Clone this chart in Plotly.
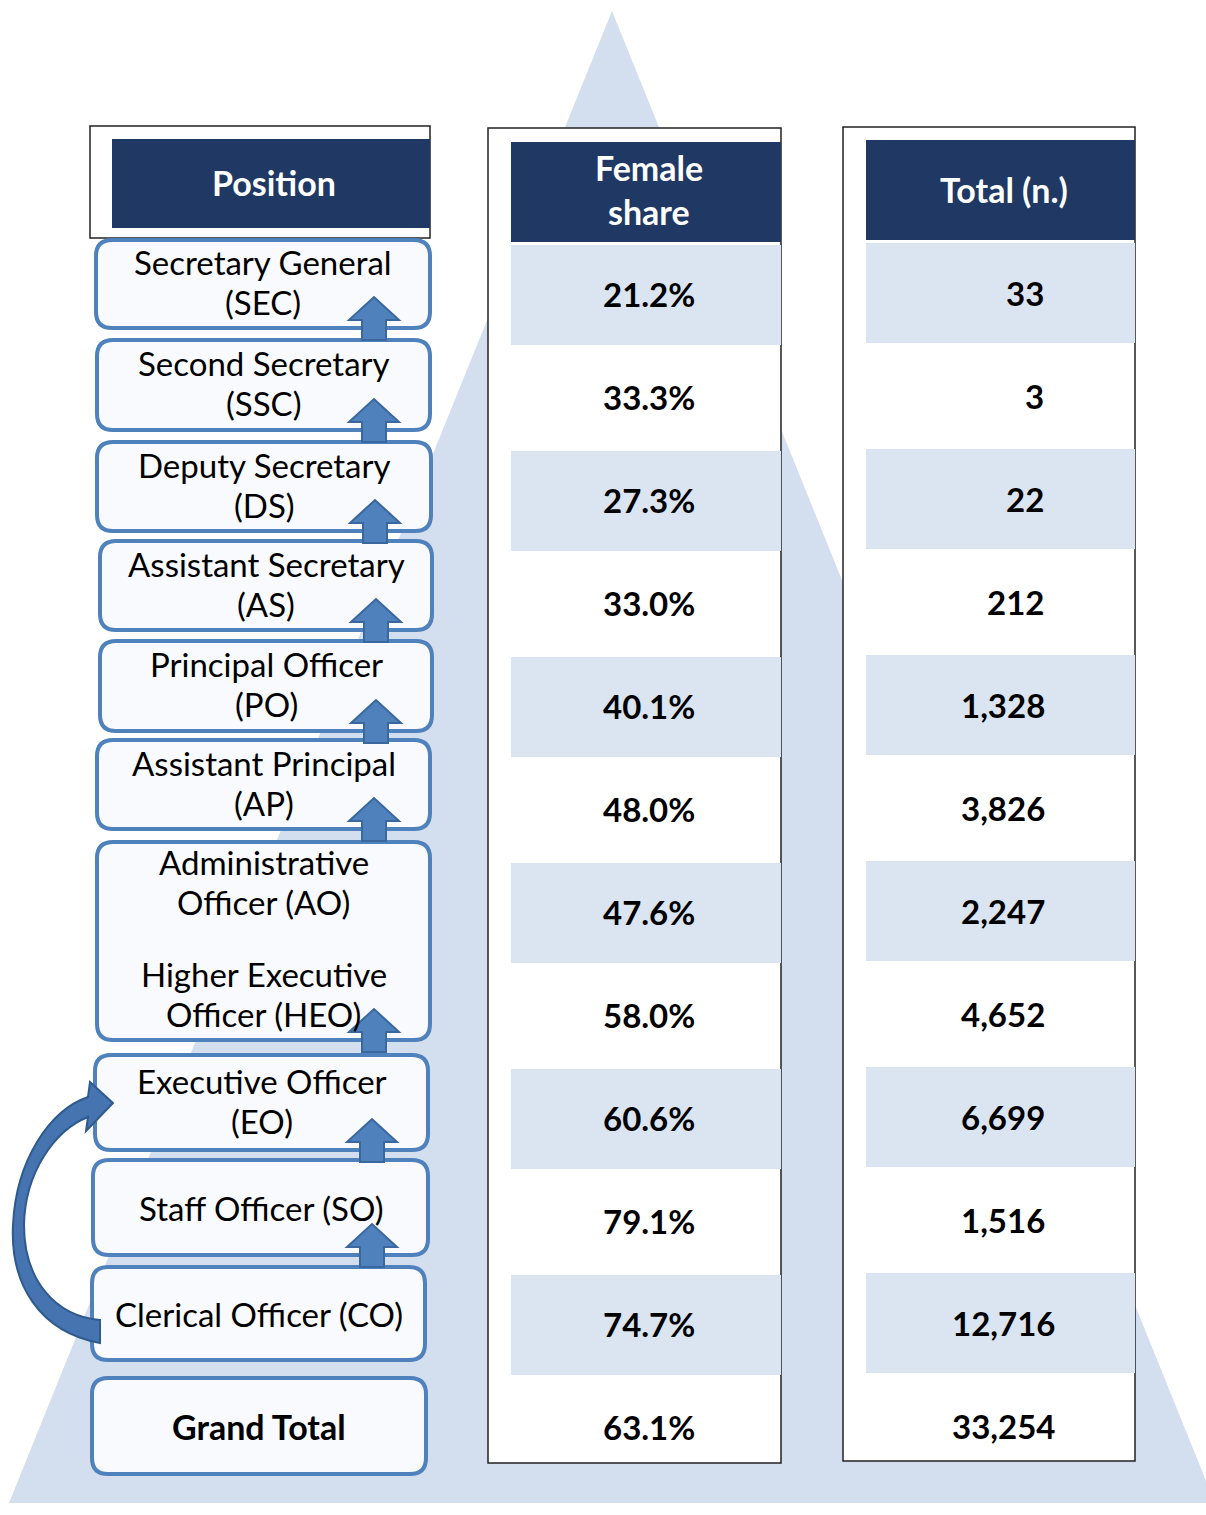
import plotly.graph_objects as go

# ---------------- data ----------------
headers = ["Position", "Female<br>share", "Total (n.)"]
position_labels = [
    "Secretary General<br>(SEC)",
    "Second Secretary<br>(SSC)",
    "Deputy Secretary<br>(DS)",
    "Assistant Secretary<br>(AS)",
    "Principal Officer<br>(PO)",
    "Assistant Principal<br>(AP)",
    "Administrative<br>Officer (AO)",
    "Higher Executive<br>Officer (HEO)",
    "Executive Officer<br>(EO)",
    "Staff Officer (SO)",
    "Clerical Officer (CO)",
    "Grand Total",
]
female_share = [21.2, 33.3, 27.3, 33.0, 40.1, 48.0, 47.6, 58.0, 60.6, 79.1, 74.7, 63.1]
totals = [33, 3, 22, 212, 1328, 3826, 2247, 4652, 6699, 1516, 12716, 33254]

# ---------------- layout helpers (pixel canvas) ----------------
W, H = 1206, 1515
NAVY = "#203864"
STRIPE = "#DBE5F1"
PYR = "#D3DEEE"
BOX_LINE = "#4F81BD"
BOX_FILL = "#F8FAFD"
ARROW_FILL = "#4F81BD"
ARROW_LINE = "#3A679E"
FONT = "Lato, Carlito, Calibri, sans-serif"
LABEL_SIZE = 33
NUM_SIZE = 33
HEAD_SIZE = 34
LINE_GAP = 40

ROW_TOP0 = 244
ROW_STEP = 103
ROW_H = 100

# position boxes: (left, top, right, bottom, [label indices])
boxes = [
    (96, 240, 430, 328, [0]),
    (97, 340, 430, 430, [1]),
    (97, 442, 431, 531, [2]),
    (100, 541, 432, 630, [3]),
    (100, 641, 432, 731, [4]),
    (97, 740, 430, 829, [5]),
    (97, 842, 430, 1040, [6, 7]),
    (95, 1055, 428, 1150, [8]),
    (93, 1160, 428, 1255, [9]),
    (92, 1267, 425, 1360, [10]),
    (92, 1378, 426, 1474, [11]),
]


def rrect(x0, y0, x1, y1, r=16):
    return (f"M {x0+r},{y0} L {x1-r},{y0} Q {x1},{y0} {x1},{y0+r} "
            f"L {x1},{y1-r} Q {x1},{y1} {x1-r},{y1} L {x0+r},{y1} "
            f"Q {x0},{y1} {x0},{y1-r} L {x0},{y0+r} Q {x0},{y0} {x0+r},{y0} Z")


def up_arrow(cx, apex, bottom):
    return (f"M {cx-12},{bottom} L {cx-12},{apex+23} L {cx-25},{apex+23} L {cx},{apex} "
            f"L {cx+25},{apex+23} L {cx+12},{apex+23} L {cx+12},{bottom} Z")


shapes = []
annotations = []


def add_lines(text, cx, cy, size, bold=False, color="black", gap=LINE_GAP):
    lines = text.split("<br>")
    n = len(lines)
    off = -2 if n > 1 else 0
    for k, ln in enumerate(lines):
        y = cy + off + (k - (n - 1) / 2) * gap
        t = f"<b>{ln}</b>" if bold else ln
        annotations.append(dict(x=cx, y=y, text=t, showarrow=False,
                                font=dict(family=FONT, size=size, color=color),
                                xanchor="center", yanchor="middle"))


# pyramid background
shapes.append(dict(type="path", path="M 612,11 L 1215,1503 L 9,1503 Z",
                   fillcolor=PYR, line=dict(width=0), layer="below"))

# table panels
for (x0, y0, x1, y1) in [(488, 128, 781, 1463), (843, 127, 1135, 1461)]:
    shapes.append(dict(type="rect", x0=x0, y0=y0, x1=x1, y1=y1,
                       fillcolor="white", line=dict(color="#222", width=1.5), layer="below"))
# position header panel
shapes.append(dict(type="rect", x0=90, y0=126, x1=430, y1=238,
                   fillcolor="white", line=dict(color="#222", width=1.5), layer="below"))

# header fills
header_boxes = [(112, 139, 430, 228), (511, 142, 781, 242), (866, 140, 1135, 240)]
for (x0, y0, x1, y1), txt in zip(header_boxes, headers):
    shapes.append(dict(type="rect", x0=x0, y0=y0, x1=x1, y1=y1,
                       fillcolor=NAVY, line=dict(width=0), layer="below"))
    add_lines(txt, (x0 + x1) / 2 + 3, (y0 + y1) / 2 - 1, HEAD_SIZE, bold=True,
              color="white", gap=44)

# striped rows
for i in range(len(female_share)):
    top = ROW_TOP0 + ROW_STEP * i
    if i % 2 == 0:
        shapes.append(dict(type="rect", x0=511, y0=top + 1, x1=781, y1=top + ROW_H + 1,
                           fillcolor=STRIPE, line=dict(width=0), layer="below"))
        shapes.append(dict(type="rect", x0=866, y0=top - 1, x1=1135, y1=top + ROW_H - 1,
                           fillcolor=STRIPE, line=dict(width=0), layer="below"))
    yc = top + ROW_H / 2
    annotations.append(dict(x=649, y=yc, text=f"<b>{female_share[i]:.1f}%</b>", showarrow=False,
                            font=dict(family=FONT, size=NUM_SIZE, color="black"),
                            xanchor="center", yanchor="middle"))
    v = totals[i]
    if v >= 1000:
        annotations.append(dict(x=1003, y=yc - 1, text=f"<b>{v:,}</b>", showarrow=False,
                                font=dict(family=FONT, size=NUM_SIZE, color="black"),
                                xanchor="center", yanchor="middle"))
    else:
        annotations.append(dict(x=1046, y=yc - 1, text=f"<b>{v:,}</b>", showarrow=False,
                                font=dict(family=FONT, size=NUM_SIZE, color="black"),
                                xanchor="right", yanchor="middle"))

# position boxes
for (x0, y0, x1, y1, idx) in boxes:
    shapes.append(dict(type="path", path=rrect(x0, y0, x1, y1), fillcolor=BOX_FILL,
                       line=dict(color=BOX_LINE, width=4)))
    cx = (x0 + x1) / 2
    mid = (y0 + y1) / 2
    if len(idx) == 1:
        lab = position_labels[idx[0]]
        if lab == "Grand Total":
            add_lines(lab, cx, mid, 34, bold=True)
        else:
            add_lines(lab, cx, mid, LABEL_SIZE)
    else:
        for k, j in enumerate(idx):
            add_lines(position_labels[j], cx, mid - 57 + 112 * k, LABEL_SIZE)

# small up arrows between boxes
for (x0, y0, x1, y1, idx) in boxes[:-2]:
    shapes.append(dict(type="path", path=up_arrow(x1 - 56, y1 - 31, y1 + 12),
                       fillcolor=ARROW_FILL, line=dict(color=ARROW_LINE, width=2)))

# curved arrow from CO to EO
curve = ("M 100,1343 C 40,1332 10,1285 13,1225 C 16,1160 50,1110 88,1097 "
         "L 90,1082 L 113,1103 L 86,1131 L 88,1117 "
         "C 55,1130 25,1172 24,1225 C 24,1280 55,1316 100,1320 Z")
shapes.append(dict(type="path", path=curve, fillcolor="#4674B0",
                   line=dict(color="#2F5A8E", width=2)))

fig = go.Figure()
fig.update_layout(
    width=W, height=H, autosize=False,
    margin=dict(l=0, r=0, t=0, b=0),
    paper_bgcolor="white", plot_bgcolor="white",
    xaxis=dict(range=[0, W], visible=False, fixedrange=True),
    yaxis=dict(range=[H, 0], visible=False, fixedrange=True),
    shapes=shapes, annotations=annotations, showlegend=False,
)
fig.write_html("out.html", config={"displayModeBar": False},
               post_script="document.body.style.margin='0';")
